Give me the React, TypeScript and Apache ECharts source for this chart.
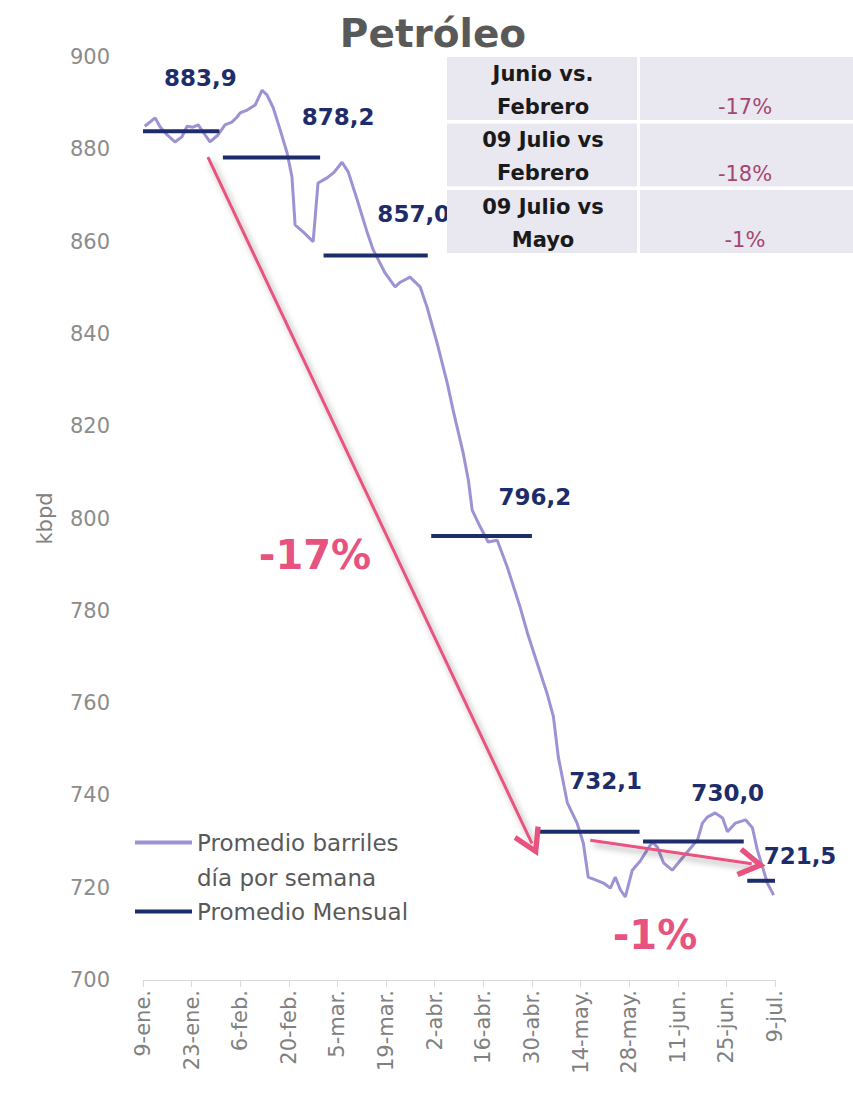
import React, { useEffect, useRef } from "react";
import * as echarts from "echarts";

// ---- data ----
const tickLabels = ["9-ene.", "23-ene.", "6-feb.", "20-feb.", "5-mar.", "19-mar.", "2-abr.", "16-abr.", "30-abr.", "14-may.", "28-may.", "11-jun.", "25-jun.", "9-jul."];

// days since 9-ene, weekly rolling average (kbpd)
const weeklyDays = [0.5, 3.5, 5, 7, 9.2, 11.2, 12.7, 14.4, 15.9, 17.9, 19.3, 21.6, 23.6, 25.6, 27.1, 28, 30, 32.3, 34.3, 35.7, 37.5, 39.5, 41.5, 42.9, 43.8, 46.1, 49, 50.4, 53, 55, 57.3, 59.1, 61.7, 64.6, 66.3, 69.7, 72.6, 74.1, 76.9, 79.8, 81.8, 84.7, 87.6, 89.3, 92.2, 93.7, 94.8, 97.1, 99.4, 102, 104.9, 108.6, 110.7, 113.5, 116.4, 118.2, 119.6, 122.2, 125, 126.8, 128.2, 130.3, 132.6, 134.6, 136, 137.5, 138.9, 140.9, 143.2, 145.2, 146.7, 148.1, 149.9, 152.4, 154.2, 156.8, 159.7, 161.1, 162.5, 164.8, 166.9, 168.3, 170.6, 173.5, 175.5, 176.9, 178.4, 179.8, 181.6];
const weeklyValues = [885.0, 886.8, 884.8, 883.1, 881.6, 882.7, 885.0, 884.8, 885.3, 883.1, 881.6, 883.1, 885.3, 885.9, 887.0, 887.9, 888.5, 889.6, 892.8, 891.8, 889.0, 884.2, 879.2, 874.0, 863.6, 862.1, 860.0, 872.7, 873.8, 875.0, 877.2, 875.1, 869.0, 861.9, 858.2, 853.2, 850.2, 851.2, 852.3, 850.2, 845.8, 838.0, 829.4, 823.5, 814.2, 808.3, 801.8, 798.2, 794.9, 795.3, 789.5, 780.8, 775.2, 768.7, 762.0, 757.0, 748.3, 738.4, 734.0, 729.7, 722.3, 721.7, 721.0, 719.9, 722.3, 719.5, 718.0, 723.8, 725.8, 728.2, 729.9, 728.8, 725.4, 723.8, 725.4, 727.8, 730.4, 734.0, 735.3, 736.2, 735.1, 732.1, 734.0, 734.7, 733.0, 728.2, 724.5, 721.0, 718.4];

const monthStartDays = [0, 23, 52, 83, 113, 144, 174];
const monthEndDays = [22, 51, 82, 112, 143, 173, 182];
const monthValues = [883.9, 878.2, 857.0, 796.2, 732.1, 730.0, 721.5];

const tableLabels = ["Junio vs.\nFebrero", "09 Julio vs\nFebrero", "09 Julio vs\nMayo"];
const tableValues = ["-17%", "-18%", "-1%"];

// arrows: [startDay, startValue, endDay, endValue]
const arrowBig = [18.7, 878.3, 112, 729.6];
const arrowSmall = [128.8, 730.3, 175.3, 725.2];
const arrowTexts = ["-17%", "-1%"];

const WEEKLY_NAME = "Promedio barriles\ndía por semana";
const MONTHLY_NAME = "Promedio Mensual";

// ---- styles ----
const FONT = "DejaVu Sans";
const LAVENDER = "#9d92d3";
const NAVY = "#1d2c6a";
const PINK = "#e8527f";
const labelOffsets = [[-19, -53], [18, -41], [-14, -41], [3, -39], [-34, -51], [-16, -49], [25, -25]];

const fmt = (v: number) => v.toFixed(1).replace(".", ",");

export default function App() {
  const ref = useRef<HTMLDivElement>(null);
  useEffect(() => {
    if (!ref.current) return;
    const chart = echarts.init(ref.current, undefined, { renderer: "svg" });

    const monthSeries = monthValues.map((v, i) => ({
      name: MONTHLY_NAME,
      type: "line",
      symbol: "none",
      z: 3,
      lineStyle: { color: NAVY, width: 4, cap: "butt" },
      itemStyle: { color: NAVY },
      data: [
        [monthStartDays[i], v],
        [monthEndDays[i], v],
      ],
    }));

    const labelSeries = {
      name: "etiquetas",
      type: "scatter",
      symbolSize: 1,
      silent: true,
      z: 4,
      itemStyle: { color: "rgba(0,0,0,0)", opacity: 1 },
      data: monthValues.map((v, i) => ({
        value: [monthEndDays[i], v],
        label: { offset: labelOffsets[i] },
      })),
      label: {
        show: true,
        position: "inside",
        align: "center",
        verticalAlign: "middle",
        formatter: (p: any) => fmt(p.value[1]),
        color: NAVY,
        opacity: 1,
        textBorderWidth: 0,
        fontFamily: FONT,
        fontWeight: "bold",
        fontSize: 23,
      },
    };

    const chevron = "path://M10,0 L20,17 L17,19 L10,7 L3,19 L0,17 Z";
    const arrowLine = {
      color: PINK,
      width: 3,
      type: "solid",
      shadowBlur: 6,
      shadowColor: "rgba(0,0,0,0.35)",
      shadowOffsetX: 3,
      shadowOffsetY: 4,
    };

    const option: any = {
      animation: false,
      textStyle: { fontFamily: FONT },
      grid: { left: 143, right: 78, top: 57, bottom: 124, containLabel: false },
      xAxis: {
        type: "value",
        min: 0,
        max: 182,
        interval: 14,
        axisLine: { show: true, lineStyle: { color: "#d9d9d9", width: 1 } },
        axisTick: { show: true, length: 7, lineStyle: { color: "#d9d9d9" } },
        splitLine: { show: false },
        axisLabel: {
          rotate: 90,
          color: "#808080",
          fontSize: 21,
          fontFamily: FONT,
          margin: 10,
          formatter: (v: number) => tickLabels[Math.round(v / 14)] ?? "",
        },
      },
      yAxis: {
        type: "value",
        min: 700,
        max: 900,
        interval: 20,
        name: "kbpd",
        nameLocation: "middle",
        nameGap: 88,
        nameRotate: 90,
        nameTextStyle: { color: "#808080", fontSize: 21, fontFamily: FONT },
        axisLine: { show: false },
        axisTick: { show: false },
        splitLine: { show: false },
        axisLabel: { color: "#8c8c8c", fontSize: 21, fontFamily: FONT, margin: 33 },
      },
      legend: {
        orient: "vertical",
        left: 135,
        top: 790,
        padding: 0,
        itemGap: -1,
        itemWidth: 57,
        itemHeight: 4,
        icon: "rect",
        textStyle: { color: "#595959", fontSize: 23, fontFamily: FONT, lineHeight: 35 },
        formatter: (name: string) => (name === WEEKLY_NAME ? " \n" + name : name),
        data: [WEEKLY_NAME, MONTHLY_NAME],
      },
      series: [
        {
          name: WEEKLY_NAME,
          type: "line",
          symbol: "none",
          z: 2,
          lineStyle: { color: LAVENDER, width: 3 },
          itemStyle: { color: LAVENDER },
          data: weeklyDays.map((d, i) => [d, weeklyValues[i]]),
          markLine: {
            silent: true,
            symbol: ["none", chevron],
            symbolSize: [30, 28],
            label: { show: false },
            lineStyle: arrowLine,
            z: 5,
            data: [
              [{ coord: [arrowBig[0], arrowBig[1]] }, { coord: [arrowBig[2], arrowBig[3]] }],
              [{ coord: [arrowSmall[0], arrowSmall[1]] }, { coord: [arrowSmall[2], arrowSmall[3]] }],
            ],
          },
        },
        ...monthSeries,
        labelSeries,
      ],
      graphic: [
        {
          type: "text",
          x: 433,
          y: 33,
          style: { text: "Petróleo", fill: "#595959", font: `bold 39px "${FONT}"`, align: "center", verticalAlign: "middle" },
        },
        {
          type: "text",
          x: 315,
          y: 555,
          style: { text: arrowTexts[0], fill: PINK, font: `bold 40px "${FONT}"`, align: "center", verticalAlign: "middle" },
        },
        {
          type: "text",
          x: 655,
          y: 935,
          style: { text: arrowTexts[1], fill: PINK, font: `bold 40px "${FONT}"`, align: "center", verticalAlign: "middle" },
        },
        ...tableLabels.flatMap((t, i) => {
          const top = 57 + i * 66.5;
          return [
            { type: "rect", z: 50, shape: { x: 447, y: top, width: 190, height: 63 }, style: { fill: "#e9e7ef" } },
            { type: "rect", z: 50, shape: { x: 640, y: top, width: 213, height: 63 }, style: { fill: "#e9e7ef" } },
            {
              type: "text",
              z: 51,
              x: 543,
              y: top + 33,
              style: { text: t, fill: "#1a1a1a", font: `bold 21px "${FONT}"`, lineHeight: 33, align: "center", verticalAlign: "middle" },
            },
            {
              type: "text",
              z: 51,
              x: 745,
              y: top + 50,
              style: { text: tableValues[i], fill: "#a3476f", font: `21px "${FONT}"`, align: "center", verticalAlign: "middle" },
            },
          ];
        }),
      ],
    };

    chart.setOption(option);
    return () => chart.dispose();
  }, []);

  return <div ref={ref} style={{ position: "absolute", left: 0, top: 0, width: 853, height: 1104 }} />;
}
